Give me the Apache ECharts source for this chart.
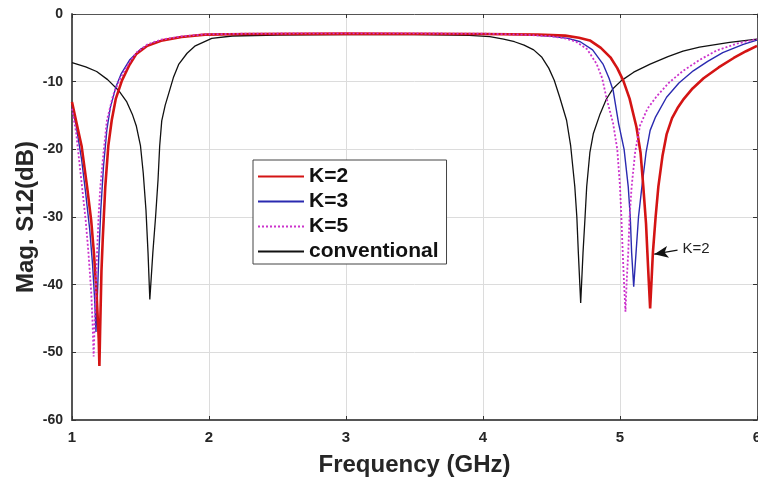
<!DOCTYPE html>
<html>
  <head>
    <meta charset="UTF-8" />
    <title>S12</title>
    <script src="https://cdn.jsdelivr.net/npm/echarts@6/dist/echarts.min.js"></script>
    <style>
      html,
      body {
        margin: 0;
        padding: 0;
        background: #fff;
      }
      #main {
        width: 758px;
        height: 479px;
      }
    </style>
  </head>
  <body>
    <div id="main"></div>
    <script>
      // 读图估计的数据 [GHz, dB]
      var k2 = [
        [1.0, -13], [1.03, -15.8], [1.07, -19.5], [1.11, -25.5], [1.14, -30.5],
        [1.16, -35.3], [1.18, -41.5], [1.195, -48], [1.2, -52], [1.205, -47],
        [1.215, -38], [1.225, -33], [1.243, -25.5], [1.265, -19.5], [1.29, -15.7],
        [1.32, -12.5], [1.365, -9.8], [1.42, -7.5], [1.47, -5.9], [1.55, -4.7],
        [1.66, -3.9], [1.8, -3.4], [1.97, -3.05], [2.3, -2.95], [3, -2.9],
        [4, -2.95], [4.4, -3.05], [4.6, -3.2], [4.7, -3.5], [4.78, -3.9],
        [4.86, -5.0], [4.93, -6.4], [4.98, -8], [5.024, -9.85], [5.07, -12.5],
        [5.12, -16.7], [5.15, -20.5], [5.17, -25.5], [5.19, -31], [5.2, -35.3],
        [5.21, -39.5], [5.22, -43.5], [5.23, -39.5], [5.24, -35.3], [5.26, -30],
        [5.28, -25.5], [5.31, -21], [5.34, -17.8], [5.38, -15.4], [5.42, -13.9],
        [5.46, -12.7], [5.53, -11], [5.61, -9.5], [5.72, -7.9], [5.83, -6.5],
        [5.92, -5.5], [6.0, -4.7]
      ];
      var k3 = [
        [1.0, -13.5], [1.03, -16.5], [1.07, -21.5], [1.1, -26.5], [1.13, -32],
        [1.15, -37], [1.165, -42], [1.175, -47], [1.185, -42], [1.195, -36],
        [1.21, -29], [1.23, -22.5], [1.255, -17], [1.28, -13.8], [1.32, -10.8],
        [1.36, -8.8], [1.42, -6.8], [1.5, -5.2], [1.6, -4.2], [1.75, -3.5],
        [1.95, -3.05], [2.3, -2.95], [3, -2.9], [4, -2.95], [4.3, -3.05],
        [4.5, -3.3], [4.62, -3.6], [4.71, -4.1], [4.8, -5.3], [4.876, -7.4],
        [4.92, -9.5], [4.95, -11.3], [4.99, -16.2], [5.03, -20], [5.06, -25.5],
        [5.075, -30], [5.085, -35.3], [5.1, -40.3], [5.117, -35.3], [5.135, -30],
        [5.16, -25.5], [5.19, -20.5], [5.22, -17.2], [5.26, -15.2], [5.34, -12.3],
        [5.43, -10.2], [5.535, -8.4], [5.64, -7], [5.75, -5.7], [5.9, -4.5],
        [6.0, -3.85]
      ];
      var k5 = [
        [1.0, -14], [1.03, -17.5], [1.073, -25.5], [1.1, -30.5], [1.12, -35.3],
        [1.14, -41], [1.15, -45.5], [1.158, -50.6], [1.165, -46], [1.175, -40],
        [1.183, -35.3], [1.195, -29.5], [1.207, -25.5], [1.23, -20.5], [1.255, -15.7],
        [1.3, -12], [1.35, -9.6], [1.41, -7.4], [1.47, -5.7], [1.55, -4.5],
        [1.65, -3.8], [1.8, -3.3], [1.97, -3.0], [2.3, -2.9], [3, -2.85],
        [4, -2.9], [4.3, -3.05], [4.5, -3.3], [4.6, -3.6], [4.68, -4.1],
        [4.76, -5.2], [4.83, -7.4], [4.87, -9.5], [4.9, -12.3], [4.95, -16.2],
        [4.98, -20], [5.0, -25.5], [5.01, -30], [5.02, -35.3], [5.03, -40],
        [5.04, -44], [5.05, -39], [5.06, -35.3], [5.07, -30], [5.085, -25.5],
        [5.11, -20.5], [5.146, -16.5], [5.2, -14], [5.27, -12.1], [5.36, -10.1],
        [5.46, -8.4], [5.58, -6.8], [5.705, -5.4], [5.85, -4.4], [6.0, -3.7]
      ];
      var conv = [
        [1.0, -7.2], [1.1, -7.8], [1.18, -8.5], [1.26, -9.7], [1.34, -11.3],
        [1.4, -13], [1.44, -14.8], [1.47, -16.6], [1.5, -19.5], [1.52, -23.5],
        [1.54, -29], [1.555, -35.3], [1.568, -42.2], [1.59, -35.3], [1.61, -30],
        [1.628, -24.5], [1.64, -19.5], [1.655, -15.8], [1.68, -13.5], [1.705, -11.8],
        [1.74, -9.4], [1.78, -7.4], [1.84, -5.8], [1.9, -4.7], [2.02, -3.6],
        [2.17, -3.25], [2.5, -3.1], [3, -3.05], [3.5, -3.05], [3.9, -3.15],
        [4.05, -3.35], [4.15, -3.7], [4.23, -4.1], [4.3, -4.6], [4.37, -5.3],
        [4.43, -6.4], [4.48, -8], [4.52, -9.8], [4.56, -12.3], [4.61, -15.7],
        [4.64, -19.5], [4.67, -25.5], [4.685, -30], [4.696, -35.3], [4.713, -42.7],
        [4.73, -35.3], [4.745, -30], [4.757, -25.5], [4.78, -20.5], [4.805, -17.7],
        [4.854, -14.8], [4.9, -12.6], [4.95, -11], [5.01, -9.85], [5.1, -8.6],
        [5.22, -7.4], [5.35, -6.3], [5.46, -5.5], [5.58, -4.9], [5.8, -4.2],
        [6.0, -3.7]
      ];
      var seriesNames = ["K=2", "K=3", "K=5", "conventional"];
      // 箭头标注 K=2
      var arrowFrom = [5.42, -34.9];
      var arrowTo = [5.25, -35.5];

      var myChart = echarts.init(document.getElementById("main"));
      var axisFont = "Liberation Sans, Arial, sans-serif";

      function frameAxis(pos) {
        var isX = pos == "top" || pos == "bottom";
        return {
          type: "value",
          position: pos,
          min: isX ? 1 : -60,
          max: isX ? 6 : 0,
          interval: isX ? 1 : 10,
          axisLine: { show: true, onZero: false, lineStyle: { color: "#555", width: 1 } },
          axisTick: { show: true, inside: true, length: 4, lineStyle: { color: "#333" } },
          axisLabel: { show: false },
          splitLine: { show: false },
        };
      }

      function curve(name, data, color, width, dash, z) {
        return {
          name: name,
          type: "line",
          data: data,
          showSymbol: false,
          symbol: "none",
          smooth: false,
          z: z,
          lineStyle: { color: color, width: width, type: dash },
          itemStyle: { color: color },
        };
      }

      var option = {
        animation: false,
        backgroundColor: "#fff",
        grid: { left: 72, right: 1, top: 14, bottom: 59, outerBoundsMode: "none", containLabel: false },
        legend: {
          orient: "vertical",
          left: 253,
          top: 160,
          data: seriesNames,
          backgroundColor: "#fff",
          borderColor: "#444",
          borderWidth: 1,
          borderRadius: 0,
          padding: [6, 8, 2, 4],
          itemWidth: 46,
          itemHeight: 14,
          itemGap: 4,
          itemStyle: { opacity: 0 },
          textStyle: {
            fontFamily: axisFont,
            fontWeight: "bold",
            fontSize: 21,
            color: "#111",
          },
        },
        xAxis: [
          {
            type: "value",
            min: 1,
            max: 6,
            interval: 1,
            name: "Frequency (GHz)",
            nameLocation: "middle",
            nameGap: 33,
            nameMoveOverlap: false,
            nameTextStyle: { fontFamily: axisFont, fontWeight: "bold", fontSize: 24, color: "#262626" },
            axisLine: { onZero: false, lineStyle: { color: "#555", width: 2 } },
            axisTick: { inside: true, length: 4, lineStyle: { color: "#333" } },
            axisLabel: { fontFamily: axisFont, fontWeight: "bold", fontSize: 15, color: "#262626", margin: 10 },
            splitLine: { show: true, lineStyle: { color: "#dcdcdc", width: 1 } },
          },
          frameAxis("top"),
        ],
        yAxis: [
          {
            type: "value",
            min: -60,
            max: 0,
            interval: 10,
            name: "Mag. S12(dB)",
            nameLocation: "middle",
            nameGap: 34,
            nameMoveOverlap: false,
            nameTextStyle: { fontFamily: axisFont, fontWeight: "bold", fontSize: 24, color: "#262626" },
            axisLine: { show: true, onZero: false, lineStyle: { color: "#555", width: 2 } },
            axisTick: { show: true, inside: true, length: 4, lineStyle: { color: "#333" } },
            axisLabel: { fontFamily: axisFont, fontWeight: "bold", fontSize: 14, color: "#262626", margin: 9 },
            splitLine: { show: true, lineStyle: { color: "#dcdcdc", width: 1 } },
          },
          frameAxis("right"),
        ],
        series: [
          Object.assign(curve(seriesNames[0], k2, "#d41414", 2.6, "solid", 4), {
            markLine: {
              silent: true,
              symbol: ["none", "arrow"],
              symbolSize: [9, 14],
              lineStyle: { color: "#111", width: 1.3, type: "solid" },
              label: {
                show: true,
                position: "start",
                formatter: "K=2",
                fontFamily: axisFont,
                fontSize: 15,
                color: "#222",
              },
              data: [[{ coord: arrowFrom }, { coord: arrowTo }]],
            },
          }),
          curve(seriesNames[1], k3, "#2a2ab0", 1.4, "solid", 3),
          curve(seriesNames[2], k5, "#cc33cc", 1.8, [2, 2], 5),
          curve(seriesNames[3], conv, "#111", 1.3, "solid", 2),
        ],
      };
      myChart.setOption(option);
    </script>
  </body>
</html>
